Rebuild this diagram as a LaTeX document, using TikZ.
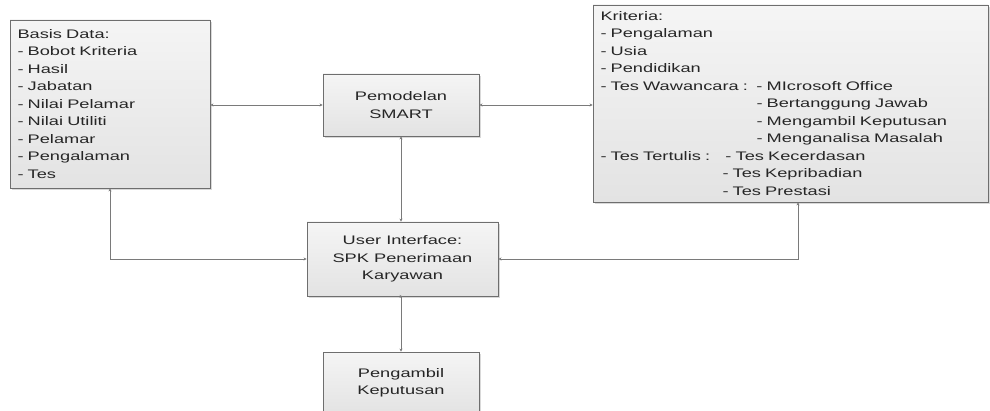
\documentclass[tikz,border=0pt]{standalone}
\usepackage{fontspec}
\setmainfont{Liberation Sans}[FakeStretch=1.47]
\usetikzlibrary{arrows.meta,shadows}
\definecolor{edge}{HTML}{6E6E6E}
\definecolor{conncol}{HTML}{7A7A7A}
\definecolor{txt}{HTML}{262626}
\tikzset{
  boxstyle/.style={draw=edge, line width=0.9pt, top color=white!96!black, bottom color=black!11,
    drop shadow={shadow xshift=2pt, shadow yshift=-2pt, fill=black!25, opacity=0.6},
    inner sep=0pt, text=txt, font=\fontsize{12.4}{17.5}\selectfont},
  centerbox/.style={boxstyle, align=center},
  listbox/.style={boxstyle, align=left, inner xsep=7.5pt},
  conn/.style={draw=conncol, line width=0.8pt, {Stealth[length=3pt,width=3pt]}-{Stealth[length=3pt,width=3pt]}}
}
\begin{document}
\begin{tikzpicture}[x=1pt,y=-1pt]
\useasboundingbox (0,0) rectangle (990,411);
\clip (0,0) rectangle (990,411);
\node[listbox, minimum width=200pt, minimum height=168pt, text width=185pt] (bd) at (110,104)
  {Basis Data:\\- Bobot Kriteria\\- Hasil\\- Jabatan\\- Nilai Pelamar\\- Nilai Utiliti\\- Pelamar\\- Pengalaman\\- Tes};
\node[centerbox, minimum width=156pt, minimum height=62pt] (pm) at (401,105) {Pemodelan\\SMART};
\node[listbox, minimum width=395pt, minimum height=197pt, text width=380pt] (kr) at (790.5,103.5)
  {Kriteria:\\- Pengalaman\\- Usia\\- Pendidikan\\
   \makebox[156pt][l]{- Tes Wawancara :}- MIcrosoft Office\\
   \hspace*{156pt}- Bertanggung Jawab\\
   \hspace*{156pt}- Mengambil Keputusan\\
   \hspace*{156pt}- Menganalisa Masalah\\
   \makebox[125pt][l]{- Tes Tertulis :}- Tes Kecerdasan\\
   \hspace*{122pt}- Tes Kepribadian\\
   \hspace*{122pt}- Tes Prestasi};
\node[centerbox, minimum width=191pt, minimum height=74pt] (ui) at (402.5,259) {User Interface:\\SPK Penerimaan\\Karyawan};
\node[centerbox, minimum width=156pt, minimum height=62pt] (pk) at (401,383) {Pengambil\\Keputusan};
\draw[conn] (pm.west) -- (pm.west -| bd.east);
\draw[conn] (pm.east) -- (pm.east -| kr.west);
\draw[conn] (pm.south) -- (pm.south |- ui.north);
\draw[conn] (bd.south) |- (ui.west);
\draw[conn] ([xshift=7.5pt]kr.south) |- (ui.east);
\draw[conn] (ui.south) -- (ui.south -| pk.north) -- (pk.north);
\end{tikzpicture}
\end{document}
